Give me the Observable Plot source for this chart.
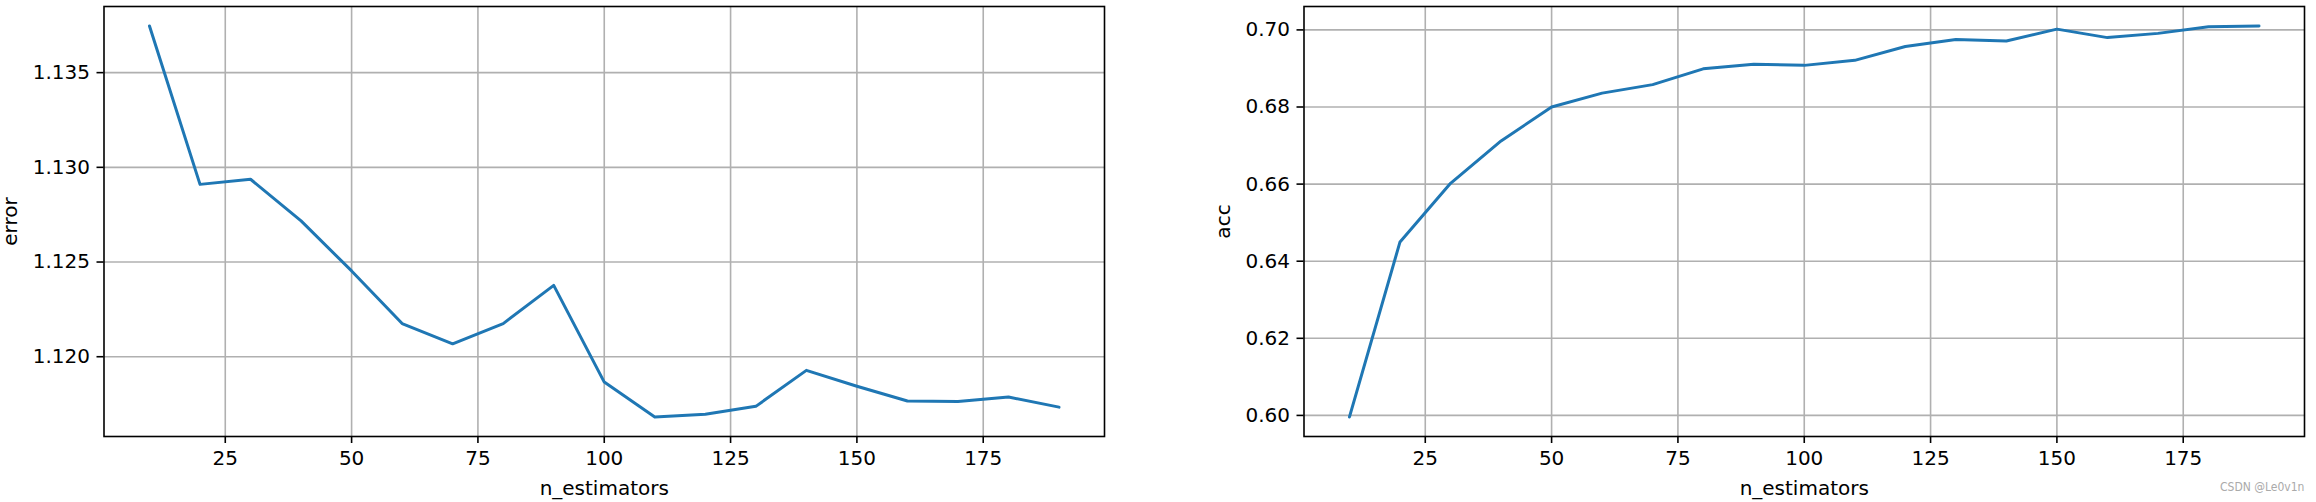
<!DOCTYPE html>
<html><head><meta charset="utf-8">
<script src="https://cdn.jsdelivr.net/npm/d3@7"></script>
<script src="https://cdn.jsdelivr.net/npm/@observablehq/plot@0.6"></script>
<style>
body{margin:0;background:#fff;}
#wrap{position:relative;width:2316px;height:502px;display:flex;background:#fff;}
#wrap svg{display:block;flex:none;}
#wm{position:absolute;left:2220px;top:480px;font-family:"Liberation Sans Narrow","DejaVu Sans Condensed",sans-serif;font-size:12px;color:#aaa;white-space:nowrap;}
</style></head><body><div id="wrap"><div id="wm">CSDN @Le0v1n</div></div>
<script>
const nEstimators = [10,20,30,40,50,60,70,80,90,100,110,120,130,140,150,160,170,180,190];
const errorValues = [1.13746,1.12910,1.12937,1.12717,1.12453,1.12175,1.12068,1.12175,1.12377,1.11866,1.11682,1.11696,1.11738,1.11928,1.11844,1.11766,1.11763,1.11787,1.11734];
const accValues = [0.5996,0.6450,0.6602,0.6712,0.6800,0.6836,0.6858,0.6899,0.6911,0.6908,0.6921,0.6957,0.6975,0.6971,0.7002,0.6980,0.6991,0.7008,0.7010];
const xTicks = [25,50,75,100,125,150,175];
const errorTicks = [1.120,1.125,1.130,1.135];
const accTicks = [0.60,0.62,0.64,0.66,0.68,0.70];
const xLabel = "n_estimators";

function padDomain(arr, m) {
  const [a, b] = d3.extent(arr);
  const p = (b - a) * m;
  return [a - p, b + p];
}

function makePlot({values, yTicks, yFormat, yLabel, width, ml, mr, yLabelOffset}) {
  const data = nEstimators.map((n, i) => ({n, v: values[i]}));
  return Plot.plot({
    width, height: 502,
    marginLeft: ml, marginRight: mr, marginTop: 6, marginBottom: 66,
    style: {fontFamily: "DejaVu Sans", fontSize: "20px", color: "#000", background: "#fff", overflow: "visible"},
    x: {domain: padDomain(nEstimators, 0.05)},
    y: {domain: padDomain(values, 0.05)},
    marks: [
      Plot.gridX(xTicks, {stroke: "#b0b0b0", strokeOpacity: 1, strokeWidth: 1.6}),
      Plot.gridY(yTicks, {stroke: "#b0b0b0", strokeOpacity: 1, strokeWidth: 1.6}),
      Plot.line(data, {x: "n", y: "v", stroke: "#1f77b4", strokeWidth: 3}),
      Plot.frame({stroke: "#000", strokeWidth: 1.6}),
      Plot.axisX(xTicks, {tickSize: 7, tickPadding: 7, strokeWidth: 1.6, label: xLabel, labelAnchor: "center", labelArrow: "none", labelOffset: 58}),
      Plot.axisY(yTicks, {tickFormat: yFormat, tickSize: 7, tickPadding: 7, strokeWidth: 1.6, label: yLabel, labelAnchor: "center", labelArrow: "none", labelOffset: yLabelOffset})
    ]
  });
}

const wrap = document.getElementById("wrap");
wrap.appendChild(makePlot({values: errorValues, yTicks: errorTicks, yFormat: d3.format(".3f"), yLabel: "error", width: 1158, ml: 103.5, mr: 54, yLabelOffset: 101}));
wrap.appendChild(makePlot({values: accValues, yTicks: accTicks, yFormat: d3.format(".2f"), yLabel: "acc", width: 1158, ml: 145.5, mr: 12, yLabelOffset: 88.5}));
</script>
</body></html>
